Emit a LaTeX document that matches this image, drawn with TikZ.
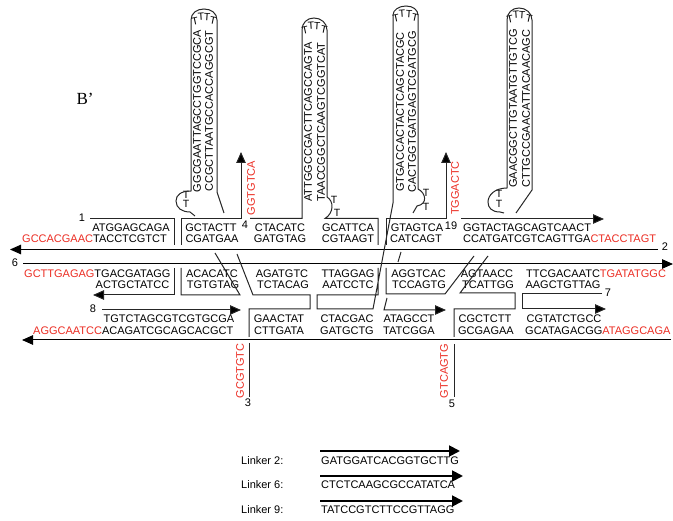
\documentclass[tikz,border=0pt]{standalone}
\usepackage{fontspec}
\setmainfont{Liberation Sans}
\usepackage{xcolor}
\usetikzlibrary{arrows.meta}
\definecolor{seqred}{RGB}{235,45,35}

\begin{document}
\begin{tikzpicture}[
                x=1pt,y=-1pt,
                every node/.style={align=center,inner sep=0pt},
                seq/.style={font=\fontsize{11}{11}\selectfont},
                redseq/.style={seq,text=seqred},
                upseq/.style={seq,rotate=90},
                upred/.style={redseq,rotate=90},
                num/.style={font=\fontsize{11}{11}\selectfont},
                loopt/.style={font=\fontsize{10.5}{10.5}\selectfont},
                strand/.style={draw=black!85,line width=1pt,line join=miter},
                arrowstrand/.style={strand,-{Triangle[length=11pt,width=9.5pt,fill=black]}},
                linkarrow/.style={draw=black,line width=1.8pt,-{Triangle[length=11pt,width=11pt]}}
            ]
            \useasboundingbox (0,0) rectangle (673,521);

            \node (bprime) at (85,99) {\setmainfont{Liberation Serif}\fontsize{17}{17}\selectfont B’};

            % Numbers
            \node[num] (n1) at (82,218) {1};
            \node[num] (n2) at (665,247) {2};
            \node[num] (n3) at (248,403) {3};
            \node[num] (n4) at (245,225) {4};
            \node[num] (n5) at (452,404) {5};
            \node[num] (n6) at (15,263) {6};
            \node[num] (n7) at (608,293) {7};
            \node[num] (n8) at (93,309) {8};
            \node[num] (n19) at (451,226) {19};

            % Sequences, top row
            \node[seq] (s1) at (131,228) {ATGGAGCAGA};
            \node[seq,anchor=west] (s2) at (22,239) {\textcolor{seqred}{GCCACGAAC}TACCTCGTCT};
            \node[seq] (s3) at (211,228) {GCTACTT};
            \node[seq] (s4) at (212,239) {CGATGAA};
            \node[seq] (s5) at (280,228) {CTACATC};
            \node[seq] (s6) at (280,239) {GATGTAG};
            \node[seq] (s7) at (348,228) {GCATTCA};
            \node[seq] (s8) at (348,239) {CGTAAGT};
            \node[seq] (s9) at (417,228) {GTAGTCA};
            \node[seq] (s10) at (416,239) {CATCAGT};
            \node[seq] (s11) at (527,228) {GGTACTAGCAGTCAACT};
            \node[seq,anchor=west] (s12) at (463,239) {CCATGATCGTCAGTTGA\textcolor{seqred}{CTACCTAGT}};

            % Sequences, middle row
            \node[seq,anchor=west] (s13) at (24,274) {\textcolor{seqred}{GCTTGAGAG}TGACGATAGG};
            \node[seq] (s14) at (132.5,285) {ACTGCTATCC};
            \node[seq] (s15) at (212,274) {ACACATC};
            \node[seq] (s16) at (213,285) {TGTGTAG};
            \node[seq] (s17) at (282,274) {AGATGTC};
            \node[seq] (s18) at (283,285) {TCTACAG};
            \node[seq] (s19) at (348,274) {TTAGGAG};
            \node[seq] (s20) at (348,285) {AATCCTC};
            \node[seq] (s21) at (418.5,274) {AGGTCAC};
            \node[seq] (s22) at (419,285) {TCCAGTG};
            \node[seq] (s23) at (487,274) {AGTAACC};
            \node[seq] (s24) at (488,285) {TCATTGG};
            \node[seq,anchor=west] (s25) at (526,274) {TTCGACAATC\textcolor{seqred}{TGATATGGC}};
            \node[seq] (s26) at (563,285) {AAGCTGTTAG};

            % Sequences, bottom row
            \node[seq] (s27) at (169,319) {TGTCTAGCGTCGTGCGA};
            \node[seq,anchor=west] (s28) at (33,331) {\textcolor{seqred}{AGGCAATCC}ACAGATCGCAGCACGCT};
            \node[seq] (s29) at (279,319) {GAACTAT};
            \node[seq] (s30) at (279,331) {CTTGATA};
            \node[seq] (s31) at (347,319) {CTACGAC};
            \node[seq] (s32) at (347,331) {GATGCTG};
            \node[seq] (s33) at (409,319) {ATAGCCT};
            \node[seq] (s34) at (409,331) {TATCGGA};
            \node[seq] (s35) at (485,319) {CGCTCTT};
            \node[seq] (s36) at (486,331) {GCGAGAA};
            \node[seq] (s37) at (564,319) {CGTATCTGCC};
            \node[seq,anchor=west] (s38) at (525,331) {GCATAGACGG\textcolor{seqred}{ATAGGCAGA}};

            % Hairpin sequences
            \node[upseq] (h1) at (197,111) {GGCGAATTAGCCTGGTCCGCA};
            \node[upseq] (h2) at (209,111) {CCGCTTAATGCCACCAGGCGT};
            \node[upseq] (h3) at (308,122) {ATTGGCCGACTTCAGCCAGTA};
            \node[upseq] (h4) at (321,122) {TAACCGGCTCAAGTCGGTCAT};
            \node[upseq] (h5) at (400,112) {GTGACCACTACTCAGCTACGC};
            \node[upseq] (h6) at (412,112) {CACTGGTGATGAGTCGATGCG};
            \node[upseq] (h7) at (513,108.5) {GAACGGCTTGTAATGTTGTCG};
            \node[upseq] (h8) at (526,108.5) {CTTGCCGAACATTACAACAGC};

            % Red overhangs
            \node[upred] (r1) at (251,188) {GGTGTCA};
            \node[upred] (r2) at (455,188) {TGGACTC};
            \node[upred] (r3) at (240,371) {GCGTGTC};
            \node[upred] (r4) at (444,371) {GTCAGTG};

            % Loop Ts
            \foreach \name/\xa/\ya/\ang in {a1/195/21/12,a2/201/17/4,a3/207/17/-4,a4/213/21/-12,
                    b1/305/30/12,b2/311/26/4,b3/317/26/-4,b4/324/30/-12,
                    c1/396/18/12,c2/402/14/4,c3/409/14/-4,c4/415/18/-12,
                    d1/510/19/12,d2/516/15/4,d3/522/15/-4,d4/529/19/-12} {
                \node[loopt,rotate=\ang] (t\name) at (\xa,\ya) {T};
            }
            \node[loopt] (a5) at (186,195) {T};
            \node[loopt] (a6) at (186,204) {T};
            \node[loopt] (b5) at (334,200) {T};
            \node[loopt] (b6) at (337,213) {T};
            \node[loopt] (c5) at (426,193) {T};
            \node[loopt] (c6) at (426,207) {T};
            \node[loopt] (d5) at (499,194) {T};
            \node[loopt] (d6) at (499,204) {T};

            % Long strands
            \draw[arrowstrand,draw=black] (658,249.5) -- (10,249.5);
            \draw[arrowstrand,draw=black] (23,264) -- (673,264);
            \draw[arrowstrand,draw=black] (671,340) -- (22,340);

            % Strands with hairpins
            \draw[strand] (90,219) -- (174,219) -- (174,245);
            \draw[arrowstrand] (181,245) -- (181,218.5) -- (241,218.5) -- (241,152);
            \draw[strand] (195,216) -- (190,212) .. controls (182,212) and (176,208) .. (176,201)
                .. controls (176,195) and (181,191) .. (191,191) -- (191,20)
                .. controls (191,13) and (197,9) .. (204,9) .. controls (211,9) and (217,13) .. (217,20)
                -- (217,192) -- (224,213);
            \draw[strand] (250,218.5) -- (302,218.5) -- (302,30)
                .. controls (302,23) and (307,18) .. (314,18) .. controls (321,18) and (327,23) .. (327,30)
                -- (327,197) .. controls (334,201) and (334,213) .. (325,218.5) -- (378,218.5) -- (378,245);
            \draw[arrowstrand] (386,245) -- (386,218.5) -- (446,218.5) -- (446,152);
            \draw[strand] (378,268) -- (378,295) -- (317,295) -- (317,309) -- (373,309) -- (393,203) -- (393,15)
                .. controls (393,10) and (399,6) .. (406,6) .. controls (413,6) and (418,10) .. (418,15)
                -- (418,189) .. controls (426,193) and (428,204) .. (417,206) -- (413,213);
            \draw[arrowstrand] (461,219) -- (604,219);
            \draw[strand] (504,213) -- (500,212) .. controls (492,212) and (488,208) .. (488,202)
                .. controls (488,195) and (495,188) .. (507,188) -- (507,20)
                .. controls (507,13) and (512,8) .. (519,8) .. controls (526,8) and (532,13) .. (532,20)
                -- (532,190) -- (516,213);

            % Lower strands
            \draw[arrowstrand] (174,268) -- (174,295) -- (93,295);
            \draw[strand] (215,253) -- (240,295) -- (181,295) -- (181,268);
            \draw[strand] (237,254) -- (253,295) -- (310,295) -- (310,309) -- (249,309) -- (249,337);
            \draw[strand] (249,343) -- (249,397);
            \draw[arrowstrand] (102,310) -- (241,310);
            \draw[strand] (401,252) -- (398,262);
            \draw[arrowstrand] (387,298) -- (384,310) -- (446,310);
            \draw[strand] (386,268) -- (386,294) -- (445,294) -- (474,256);
            \draw[strand] (488,256) -- (460,293) -- (515,293) -- (515,309) -- (454,309) -- (454,337);
            \draw[strand] (454,344) -- (454,397);
            \draw[arrowstrand] (602,294) -- (522,294) -- (522,309) -- (606,309);

            % Linkers
            \node[seq,anchor=west] (l1) at (241,461) {Linker 2:};
            \node[seq,anchor=west] (l2) at (241,485) {Linker 6:};
            \node[seq,anchor=west] (l3) at (241,510) {Linker 9:};
            \node[seq,anchor=west] (q1) at (321,461) {GATGGATCACGGTGCTTG};
            \node[seq,anchor=west] (q2) at (321,485) {CTCTCAAGCGCCATATCA};
            \node[seq,anchor=west] (q3) at (321,510) {TATCCGTCTTCCGTTAGG};
            \draw[linkarrow] (320,451) -- (460,451);
            \draw[linkarrow] (320,476) -- (463,476);
            \draw[linkarrow] (320,501) -- (463,501);

            \end{tikzpicture}
\end{document}
